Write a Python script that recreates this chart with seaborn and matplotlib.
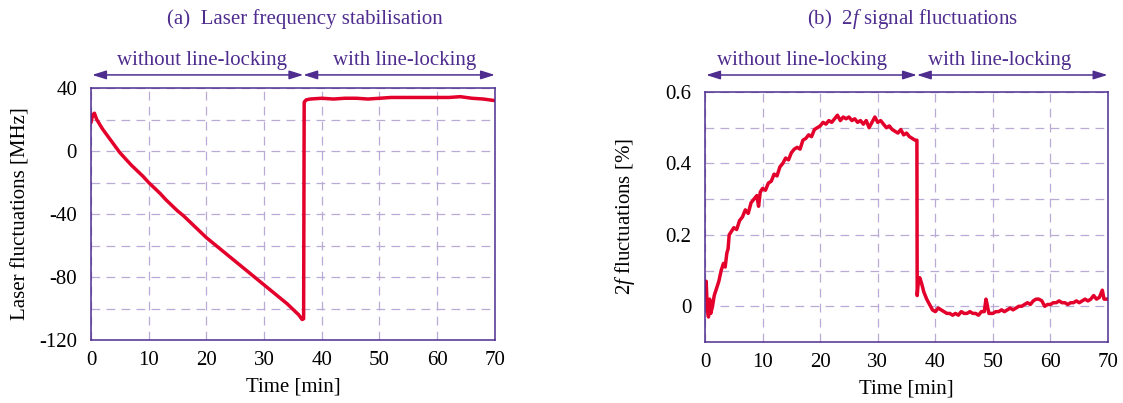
import numpy as np
import pandas as pd
import seaborn as sns
import matplotlib
matplotlib.use("Agg")
import matplotlib.pyplot as plt
import matplotlib.transforms as mtransforms

# ---------------- data ----------------
time_a = [0, 0.3, 0.6, 1, 1.5, 2, 3, 4, 5, 6, 7, 8, 9, 10, 11, 12, 13, 14, 15,
          16, 17, 18, 19, 20, 21, 22, 23, 24, 25, 26, 27, 28, 29, 30, 31, 32,
          33, 34, 35, 36, 36.6, 36.85, 36.95, 37.3, 38, 40, 42, 44, 46, 48, 50,
          52, 54, 56, 58, 60, 62, 64, 66, 68, 70]
laser_a = [18, 23, 24, 20, 17, 14, 9, 4, -1, -5, -9, -12.5, -16, -20, -23.5,
           -27, -31, -34.5, -38, -41, -44.5, -48, -51.5, -55, -58, -61, -64,
           -67, -70, -73, -76, -79, -82, -85, -88, -91, -94, -97, -100.5, -104,
           -107, -106.5, 31, 32.5, 33, 33.5, 33, 33.5, 33.5, 33, 33.5, 34, 34,
           34, 34, 34, 34, 34.5, 33.5, 33, 32]

time_b = [0.0, 0.2, 0.4, 0.6, 0.8, 1.0, 1.3, 1.6, 2.0, 2.4, 2.8, 3.2, 3.5, 3.8,
          4.0, 4.2, 4.6, 5.0, 5.5, 6.0, 6.5, 7.0, 7.5, 8.0, 8.5, 9.0, 9.3, 9.6,
          10.0, 10.5, 11.0, 11.5, 12.0, 12.5, 13.0, 13.5, 14.0, 14.5, 15.0,
          15.5, 16.0, 16.5, 17.0, 17.5, 18.0, 18.5, 19.0, 19.5, 20.0, 20.5,
          21.0, 21.5, 22.0, 22.5, 23.0, 23.5, 24.0, 24.5, 25.0, 25.5, 26.0,
          26.5, 27.0, 27.5, 28.0, 28.5, 29.0, 29.5, 30.0, 30.5, 31.0, 31.5,
          32.0, 32.5, 33.0, 33.5, 34.0, 34.5, 35.0, 35.5, 36.0, 36.5, 36.8,
          36.85, 37.0, 37.3, 37.6, 38.0, 38.5, 39.0, 39.5, 40.0, 40.5, 41.0,
          41.5, 42.0, 42.5, 43.0, 43.5, 44.0, 44.5, 45.0, 45.5, 46.0, 46.5,
          47.0, 47.5, 48.0, 48.5, 48.8, 49.0, 49.3, 50.0, 50.5, 51.0, 51.5,
          52.0, 52.5, 53.0, 53.5, 54.0, 54.5, 55.0, 55.5, 56.0, 56.5, 57.0,
          57.5, 58.0, 58.5, 59.0, 59.5, 60.0, 60.5, 61.0, 61.5, 62.0, 62.5,
          63.0, 63.5, 64.0, 64.5, 65.0, 65.5, 66.0, 66.5, 67.0, 67.5, 68.0,
          68.5, 69.0, 69.3, 70.0]
signal_b = [0.06, 0.07, -0.01, -0.03, 0.02, -0.02, 0.00, 0.03, 0.05, 0.07,
            0.10, 0.12, 0.11, 0.15, 0.16, 0.20, 0.21, 0.22, 0.215, 0.24, 0.25,
            0.27, 0.26, 0.29, 0.30, 0.31, 0.28, 0.32, 0.33, 0.325, 0.345, 0.35,
            0.37, 0.365, 0.39, 0.40, 0.415, 0.41, 0.43, 0.44, 0.445, 0.44,
            0.465, 0.47, 0.48, 0.475, 0.495, 0.50, 0.505, 0.515, 0.51, 0.52,
            0.515, 0.525, 0.535, 0.52, 0.53, 0.525, 0.53, 0.52, 0.525, 0.515,
            0.52, 0.51, 0.52, 0.50, 0.515, 0.53, 0.515, 0.52, 0.51, 0.50,
            0.505, 0.495, 0.49, 0.485, 0.495, 0.48, 0.485, 0.475, 0.47, 0.465,
            0.465, 0.03, 0.06, 0.08, 0.065, 0.04, 0.02, 0.005, -0.01, -0.015,
            -0.005, -0.01, -0.015, -0.02, -0.02, -0.025, -0.02, -0.025, -0.015,
            -0.02, -0.02, -0.015, -0.02, -0.02, -0.025, -0.015, -0.015, 0.02,
            0.005, -0.02, -0.02, -0.015, -0.015, -0.01, -0.015, -0.01, -0.005,
            -0.01, -0.005, 0.0, 0.0, 0.005, 0.01, 0.005, 0.015, 0.02, 0.02,
            0.015, 0.0, 0.005, 0.005, 0.01, 0.01, 0.015, 0.01, 0.01, 0.005,
            0.01, 0.01, 0.015, 0.01, 0.015, 0.02, 0.015, 0.02, 0.03, 0.02,
            0.025, 0.045, 0.02, 0.02]

x_ticks = [0, 10, 20, 30, 40, 50, 60, 70]
y_ticks_a = [40, 0, -40, -80, -120]
y_ticks_b = [0, 0.2, 0.4, 0.6]
y_ticklabels_b = ["0", "0.2", "0.4", "0.6"]
switch_time = 36.8

# ---------------- style ----------------
sns.set_theme(style="white")
plt.rcParams["font.family"] = ["Liberation Serif", "DejaVu Serif"]
plt.rcParams["mathtext.fontset"] = "custom"
plt.rcParams["mathtext.rm"] = "Liberation Serif"
plt.rcParams["mathtext.it"] = "Liberation Serif:italic"

PURPLE = "#4e2d8f"
GRID = "#b9abd6"
RED = "#e3002b"
FS = 15

fig = plt.figure(figsize=(11.23, 4.03), dpi=100)
ax_a = fig.add_axes([0.081, 0.1563, 0.3597, 0.6253])
ax_b = fig.add_axes([0.6278, 0.1514, 0.3589, 0.6203])

df_a = pd.DataFrame({"t": time_a, "v": laser_a})
df_b = pd.DataFrame({"t": time_b, "v": signal_b})
sns.lineplot(data=df_a, x="t", y="v", ax=ax_a, color=RED, linewidth=2.5,
             estimator=None, sort=False)
sns.lineplot(data=df_b, x="t", y="v", ax=ax_b, color=RED, linewidth=2.5,
             estimator=None, sort=False)


def style_axes(ax):
    ax.set_xlim(0, 70)
    ax.set_xticks(x_ticks)
    ax.set_xticklabels([str(v) for v in x_ticks])
    for s in ax.spines.values():
        s.set_color(PURPLE)
        s.set_linewidth(1.1)
    ax.tick_params(length=0, labelsize=FS, colors="black")
    ax.tick_params(axis="y", pad=10)
    ax.tick_params(axis="x", pad=8)
    ax.grid(True, which="both", color=GRID, linestyle=(0, (7, 5)), linewidth=0.9)
    ax.set_axisbelow(True)
    ax.set_xlabel("Time [min]", fontsize=FS, color="black", labelpad=5)


style_axes(ax_a)
ax_a.set_ylim(-120, 40)
ax_a.set_yticks(y_ticks_a)
ax_a.set_yticklabels([str(v) for v in y_ticks_a])
ax_a.set_yticks([20, -20, -60, -100], minor=True)
ax_a.tick_params(which="minor", length=0)
ax_a.set_ylabel("Laser fluctuations [MHz]", fontsize=FS, color="black", labelpad=6)

style_axes(ax_b)
ax_b.set_ylim(-0.1, 0.6)
ax_b.set_yticks(y_ticks_b)
ax_b.set_yticklabels(y_ticklabels_b)
ax_b.set_yticks([0.1, 0.3, 0.5], minor=True)
ax_b.tick_params(which="minor", length=0)
ax_b.set_ylabel("$2f$ fluctuations [%]", fontsize=FS, color="black", labelpad=20)


def annotate_top(ax, arrow_y, text_y, title_y, title, title_x, left_cx, right_cx, right_end):
    tr = mtransforms.blended_transform_factory(ax.transData, ax.transAxes)
    ap = dict(arrowstyle="<|-|>,head_length=0.7,head_width=0.22", color=PURPLE,
              lw=1.1, shrinkA=0, shrinkB=0)
    ax.annotate("", xy=(0.2, arrow_y), xytext=(switch_time, arrow_y),
                xycoords=tr, textcoords=tr, arrowprops=ap, annotation_clip=False)
    ax.annotate("", xy=(switch_time, arrow_y), xytext=(right_end, arrow_y),
                xycoords=tr, textcoords=tr, arrowprops=ap, annotation_clip=False)
    ax.text(left_cx, text_y, "without line-locking", transform=tr, ha="center",
            va="center", fontsize=FS, color=PURPLE)
    ax.text(right_cx, text_y, "with line-locking", transform=tr, ha="center",
            va="center", fontsize=FS, color=PURPLE)
    ax.text(title_x, title_y, title, transform=tr, ha="center", va="center",
            fontsize=FS, color=PURPLE)


annotate_top(ax_a, 1.052, 1.111, 1.272, "(a)  Laser frequency stabilisation",
             37.0, 19.2, 54.4, 70)
annotate_top(ax_b, 1.068, 1.128, 1.294, "(b)  $2f$ signal fluctuations",
             36.0, 16.9, 51.2, 69.9)

fig.savefig("out.png", dpi=100)
